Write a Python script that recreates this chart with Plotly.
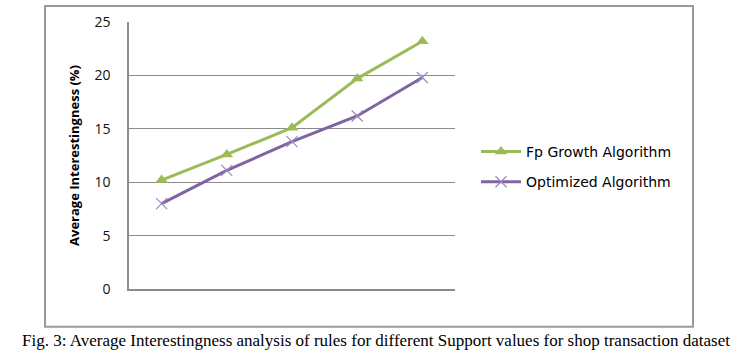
import plotly.graph_objects as go

categories = ["S1", "S2", "S3", "S4", "S5"]
fp_growth = [10.2, 12.6, 15.1, 19.7, 23.2]
optimized = [8.0, 11.1, 13.8, 16.2, 19.8]
y_ticks = [0, 5, 10, 15, 20, 25]

GREEN = "#9BBB59"
PURPLE = "#8064A2"
GRID = "#8C8C8C"

fig = go.Figure()
fig.add_trace(go.Scatter(
    x=categories, y=fp_growth, mode="lines+markers", name="Fp Growth Algorithm",
    line=dict(color=GREEN, width=3),
    marker=dict(symbol="triangle-up", size=11, color=GREEN),
    legendgroup="a",
))
fig.add_trace(go.Scatter(
    x=categories, y=optimized, mode="lines+markers", name="Optimized Algorithm",
    line=dict(color=PURPLE, width=3),
    marker=dict(symbol="x-thin", size=11, color="#9D88C0",
                line=dict(color="#9D88C0", width=1.2)),
    legendgroup="b",
))

L, R, T, B = 129, 455, 20, 289
W, H = 738, 360
pw, ph = R - L, B - T

def px(x):
    return (x - L) / pw

def py(y):
    return (B - y) / ph

fig.update_layout(
    width=W, height=H,
    margin=dict(l=L, r=W - R, t=T, b=H - B),
    paper_bgcolor="white", plot_bgcolor="white",
    showlegend=True,
    legend=dict(
        x=px(476), y=py(166), xanchor="left", yanchor="middle",
        font=dict(family="DejaVu Sans", size=14, color="#000"),
        tracegroupgap=9, traceorder="grouped",
        itemwidth=40, bgcolor="rgba(0,0,0,0)",
    ),
    xaxis=dict(
        type="category", range=[-0.5, 4.5], showticklabels=False, ticks="",
        showgrid=False, showline=True, linecolor=GRID, linewidth=1.5,
        zeroline=False, fixedrange=True,
    ),
    yaxis=dict(
        range=[0, 25], tickvals=y_ticks, ticks="", showline=True,
        linecolor=GRID, linewidth=1.5, showgrid=True, gridcolor=GRID,
        gridwidth=1.2, zeroline=False, ticklabelstandoff=14,
        tickfont=dict(family="Open Sans", size=14, color="#111"),
        title=dict(text="<b>Average Interestingness (%)</b>", standoff=12,
                   font=dict(family="Open Sans", size=13, color="#000")),
    ),
    shapes=[dict(
        type="rect", xref="paper", yref="paper",
        x0=px(45), x1=px(693), y0=py(327), y1=py(4),
        line=dict(color="#9A9A9A", width=2), layer="below",
    )],
    annotations=[dict(
        text="Fig. 3: Average Interestingness analysis of rules for different Support values for shop transaction dataset",
        xref="paper", yref="paper", x=px(376), y=py(341),
        xanchor="center", yanchor="middle", showarrow=False,
        font=dict(family="Liberation Serif", size=17, color="#000"),
    )],
)

fig.write_html(
    "out.html",
    config={"displayModeBar": False},
    post_script="document.body.style.margin='0';document.body.style.overflow='hidden';",
)
